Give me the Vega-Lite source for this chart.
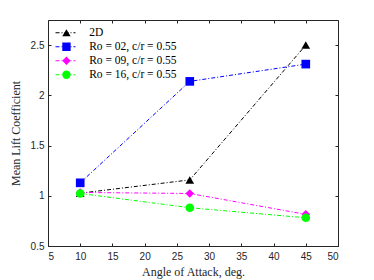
{
  "$schema": "https://vega.github.io/schema/vega-lite/v6.json",
  "width": 290,
  "height": 226,
  "autosize": {"type": "none"},
  "padding": {"left": 48, "top": 20, "right": 36, "bottom": 34},
  "background": "white",
  "config": {
    "view": {"stroke": "#262626", "strokeWidth": 1},
    "axis": {
      "grid": false,
      "domain": false,
      "tickColor": "#262626",
      "tickSize": -3,
      "labelColor": "#262626",
      "labelFont": "Liberation Sans",
      "labelFontSize": 10,
      "titleFont": "Liberation Serif",
      "titleFontSize": 12,
      "titleFontWeight": "normal",
      "titleColor": "#262626"
    }
  },
  "data": {
    "values": [
      {"id": 1, "series": "2D", "angle": 10, "cl": 1.026},
      {"id": 1, "series": "2D", "angle": 27, "cl": 1.158},
      {"id": 1, "series": "2D", "angle": 45, "cl": 2.5},
      {"id": 2, "series": "Ro = 02, c/r = 0.55", "angle": 10, "cl": 1.129},
      {"id": 2, "series": "Ro = 02, c/r = 0.55", "angle": 27, "cl": 2.139},
      {"id": 2, "series": "Ro = 02, c/r = 0.55", "angle": 45, "cl": 2.311},
      {"id": 3, "series": "Ro = 09, c/r = 0.55", "angle": 10, "cl": 1.033},
      {"id": 3, "series": "Ro = 09, c/r = 0.55", "angle": 27, "cl": 1.023},
      {"id": 3, "series": "Ro = 09, c/r = 0.55", "angle": 45, "cl": 0.815},
      {"id": 4, "series": "Ro = 16, c/r = 0.55", "angle": 10, "cl": 1.023},
      {"id": 4, "series": "Ro = 16, c/r = 0.55", "angle": 27, "cl": 0.881},
      {"id": 4, "series": "Ro = 16, c/r = 0.55", "angle": 45, "cl": 0.781}
    ]
  },
  "layer": [
    {
      "mark": {"type": "line", "strokeWidth": 1, "strokeDash": [4, 2, 1, 2]},
      "encoding": {
        "x": {
          "field": "angle", "type": "quantitative",
          "scale": {"domain": [5, 50], "nice": false},
          "axis": {"values": [5, 10, 15, 20, 25, 30, 35, 40, 45, 50], "title": "Angle of Attack, deg.", "labelPadding": 8, "titlePadding": 5}
        },
        "y": {
          "field": "cl", "type": "quantitative",
          "scale": {"domain": [0.5, 2.75], "nice": false, "zero": false},
          "axis": {"values": [0.5, 1, 1.5, 2, 2.5], "format": "~g", "title": "Mean Lift Coefficient", "labelPadding": 7, "titlePadding": 8}
        },
        "stroke": {
          "field": "id", "type": "nominal",
          "scale": {"domain": [1, 2, 3, 4], "range": ["#000000", "#0000ff", "#ff00ff", "#00ff00"]},
          "legend": {
            "orient": "none", "legendX": 7, "legendY": 6, "title": null,
            "symbolType": "stroke", "symbolSize": 400, "symbolStrokeWidth": 1,
            "symbolDash": [4, 2, 1, 2], "labelExpr": "''", "clipHeight": 13.5,
            "rowPadding": 0, "padding": 0
          }
        }
      }
    },
    {
      "mark": {"type": "point", "filled": true, "size": 75, "opacity": 1},
      "encoding": {
        "x": {
          "field": "angle", "type": "quantitative",
          "axis": {"orient": "top", "values": [5, 10, 15, 20, 25, 30, 35, 40, 45, 50], "labels": false, "title": null}
        },
        "y": {
          "field": "cl", "type": "quantitative",
          "axis": {"orient": "right", "values": [0.5, 1, 1.5, 2, 2.5], "labels": false, "title": null}
        },
        "fill": {
          "field": "series", "type": "nominal",
          "scale": {"domain": ["2D", "Ro = 02, c/r = 0.55", "Ro = 09, c/r = 0.55", "Ro = 16, c/r = 0.55"], "range": ["#000000", "#0000ff", "#ff00ff", "#00ff00"]},
          "legend": {
            "orient": "none", "legendX": 12.7, "legendY": 6, "title": null,
            "symbolSize": 70, "symbolStrokeWidth": 0, "symbolOpacity": 1,
            "labelFont": "Liberation Serif", "labelFontSize": 11.5, "labelColor": "#000000",
            "labelOffset": 17, "clipHeight": 13.5, "rowPadding": 0, "padding": 0
          }
        },
        "shape": {
          "field": "series", "type": "nominal",
          "scale": {"domain": ["2D", "Ro = 02, c/r = 0.55", "Ro = 09, c/r = 0.55", "Ro = 16, c/r = 0.55"], "range": ["triangle-up", "square", "diamond", "circle"]},
          "legend": {
            "orient": "none", "legendX": 12.7, "legendY": 6, "title": null,
            "symbolSize": 70, "symbolStrokeWidth": 0, "symbolOpacity": 1,
            "labelFont": "Liberation Serif", "labelFontSize": 11.5, "labelColor": "#000000",
            "labelOffset": 17, "clipHeight": 13.5, "rowPadding": 0, "padding": 0
          }
        }
      }
    }
  ],
  "resolve": {"axis": {"x": "independent", "y": "independent"}}
}
